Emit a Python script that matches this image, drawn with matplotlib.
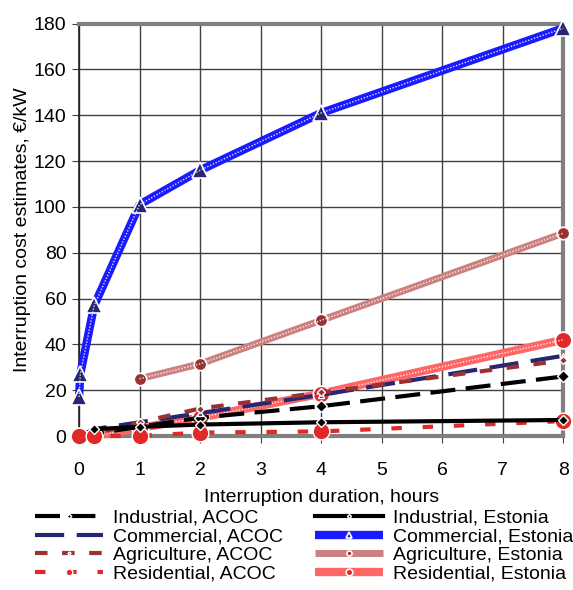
import matplotlib.pyplot as plt

plt.rcParams['font.family'] = ['Liberation Sans', 'DejaVu Sans']

# durations, hours
hours_acoc = [0, 0.25, 1, 2, 4, 8]
hours_est = [0, 0.25, 1, 2, 4, 8]
hours_com_est = [0, 0.02, 0.25, 1, 2, 4, 8]
hours_agr_est = [1, 2, 4, 8]
hours_ind_est = [0.25, 1, 2, 4, 8]

# interruption cost estimates, EUR/kW
industrial_acoc = [0, 1, 4, 8, 13, 26]
commercial_acoc = [0, 3, 6, 10, 18, 35]
agriculture_acoc = [0, 1, 6, 12, 19, 33]
residential_acoc = [0, 0, 0, 1.5, 2, 6.5]

industrial_est = [3, 4, 5, 6, 7]
commercial_est = [17, 27, 57, 101, 116, 141, 178]
agriculture_est = [25, 31.5, 50.5, 88.5]
residential_est = [0, 0, 3.5, 8, 18.5, 42]

fig = plt.figure(figsize=(5.73, 5.9), dpi=100)
ax = fig.add_axes([0.138, 0.261, 0.845, 0.699])


def hatched(x, y, color, marker, mcolor, ms, lw=6):
    # thick line with a white dotted pattern on top, like an Excel pattern fill
    base, = ax.plot(x, y, color=color, lw=lw, marker=marker, ms=ms,
                    mfc=mcolor, mec='white', mew=1.2, clip_on=False,
                    solid_capstyle='butt', zorder=3)
    ax.plot(x, y, color='white', lw=1.0, ls=(0, (1, 1.2)), alpha=0.85,
            clip_on=False, zorder=3)
    return base


def dashed(x, y, color, dash, marker, ms):
    ln, = ax.plot(x, y, color=color, lw=3, ls=(0, dash), marker=marker,
                  ms=ms, mfc=color, mec='white', mew=1.0, clip_on=False,
                  dash_capstyle='butt', zorder=4)
    return ln


h1 = dashed(hours_acoc, industrial_acoc, 'black', (6, 2.5), 'D', 6)
h2 = dashed(hours_acoc, commercial_acoc, '#262673', (7, 3), '^', 4)
h3 = dashed(hours_acoc, agriculture_acoc, '#993333', (3, 3.5), 'D', 4)
h4 = dashed(hours_acoc, residential_acoc, '#e02a2a', (2.5, 5), 'o', 12)

h5, = ax.plot(hours_ind_est, industrial_est, color='black', lw=3, marker='D',
              ms=5, mfc='black', mec='white', mew=1.0, clip_on=False, zorder=4)
h6 = hatched(hours_com_est, commercial_est, '#1a1aff', '^', '#262673', 11)
h7 = hatched(hours_agr_est, agriculture_est, '#cc8080', 'o', '#993333', 9, lw=5)
h8 = hatched(hours_est, residential_est, '#ff6666', 'o', '#e02a2a', 12)

ax.set_xlim(0, 8)
ax.set_ylim(0, 180)
ax.set_xticks(range(0, 9))
ax.set_yticks(range(0, 181, 20))
ax.grid(True, color='#404040', lw=1)
ax.set_axisbelow(True)
ax.tick_params(labelsize=14, length=5, color='#404040')
ax.tick_params(axis='x', pad=14)
ax.tick_params(axis='y', pad=4)
ax.set_xlabel('Interruption duration, hours', fontsize=14, labelpad=7)
ax.set_ylabel('Interruption cost estimates, €/kW', fontsize=14, labelpad=2)

for side in ['top', 'right', 'bottom']:
    ax.spines[side].set_color('#808080')
    ax.spines[side].set_linewidth(3)
ax.spines['left'].set_color('#202020')
ax.spines['left'].set_linewidth(1.2)

labels = ['Industrial, ACOC', 'Commercial, ACOC', 'Agriculture, ACOC',
          'Residential, ACOC', 'Industrial, Estonia', 'Commercial, Estonia',
          'Agriculture, Estonia', 'Residential, Estonia']
leg = fig.legend([h1, h2, h3, h4, h5, h6, h7, h8], labels, ncol=2,
                 loc='upper left', bbox_to_anchor=(0.061, 0.137), frameon=False,
                 fontsize=14, handlelength=3.5, handletextpad=0.5,
                 columnspacing=1.65, labelspacing=0.05, markerscale=0.4,
                 borderpad=0, borderaxespad=0)

fig.savefig('out.png', dpi=100)
